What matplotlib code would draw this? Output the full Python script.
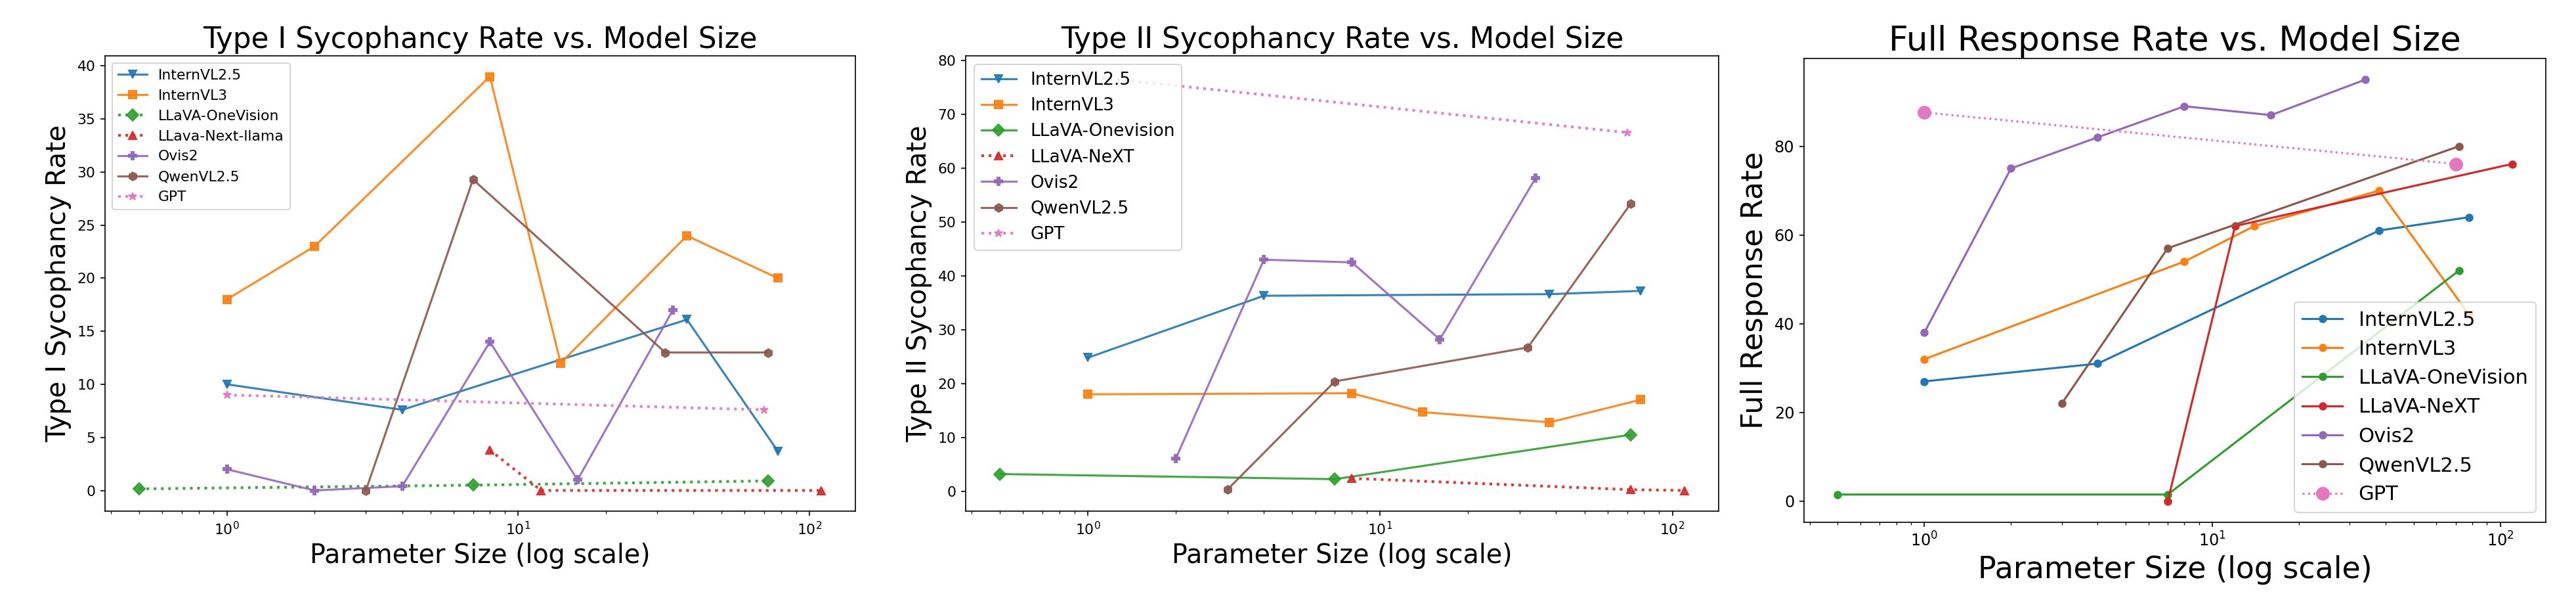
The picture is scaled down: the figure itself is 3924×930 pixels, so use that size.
import numpy as np
import matplotlib
matplotlib.use("Agg")
import matplotlib.pyplot as plt

# ---------------- data ----------------
# panel 1 : Type I sycophancy
t1_internvl25_x = [1, 4, 38, 78]
t1_internvl25_y = [10, 7.6, 16.1, 3.7]
t1_internvl3_x = [1, 2, 8, 14, 38, 78]
t1_internvl3_y = [18, 23, 39, 12, 24, 20]
t1_onevision_x = [0.5, 7, 72]
t1_onevision_y = [0.15, 0.5, 0.9]
t1_next_x = [8, 12, 110]
t1_next_y = [3.8, 0, 0]
t1_ovis_x = [1, 2, 4, 8, 16, 34]
t1_ovis_y = [2, 0, 0.4, 14, 1, 17]
t1_qwen_x = [3, 7, 32, 72]
t1_qwen_y = [0, 29.3, 13, 13]
t1_gpt_x = [1, 70]
t1_gpt_y = [9, 7.6]

# panel 2 : Type II sycophancy
t2_internvl25_x = [1, 4, 38, 78]
t2_internvl25_y = [24.8, 36.3, 36.6, 37.2]
t2_internvl3_x = [1, 8, 14, 38, 78]
t2_internvl3_y = [18, 18.2, 14.7, 12.8, 17]
t2_onevision_x = [0.5, 7, 72]
t2_onevision_y = [3.2, 2.25, 10.5]
t2_next_x = [8, 72, 110]
t2_next_y = [2.4, 0.3, 0.15]
t2_ovis_x = [2, 4, 8, 16, 34]
t2_ovis_y = [6.1, 43, 42.5, 28.2, 58.1]
t2_qwen_x = [3, 7, 32, 72]
t2_qwen_y = [0.3, 20.4, 26.7, 53.4]
t2_gpt_x = [1, 70]
t2_gpt_y = [77, 66.6]

# panel 3 : full response rate
fr_internvl25_x = [1, 4, 38, 78]
fr_internvl25_y = [27, 31, 61, 64]
fr_internvl3_x = [1, 8, 14, 38, 78]
fr_internvl3_y = [32, 54, 62, 70, 42]
fr_onevision_x = [0.5, 7, 72]
fr_onevision_y = [1.5, 1.5, 52]
fr_next_x = [7, 12, 110]
fr_next_y = [0, 62, 76]
fr_ovis_x = [1, 2, 4, 8, 16, 34]
fr_ovis_y = [38, 75, 82, 89, 87, 95]
fr_qwen_x = [3, 7, 72]
fr_qwen_y = [22, 57, 80]
fr_gpt_x = [1, 70]
fr_gpt_y = [87.6, 76]

plt.rcParams["xtick.labelsize"] = 10.5
plt.rcParams["ytick.labelsize"] = 10.5

fig = plt.figure(figsize=(26.16, 6.2), dpi=150)
ax1 = fig.add_axes([0.0408, 0.1634, 0.2913, 0.7452])
ax2 = fig.add_axes([0.3749, 0.1634, 0.2923, 0.7452])
ax3 = fig.add_axes([0.7003, 0.1452, 0.2880, 0.7590])

a = 0.9

# --- Type I ---
ax1.plot(t1_internvl25_x, t1_internvl25_y, marker="v", color="C0", alpha=a, label="InternVL2.5")
ax1.plot(t1_internvl3_x, t1_internvl3_y, marker="s", color="C1", alpha=a, label="InternVL3")
ax1.plot(t1_onevision_x, t1_onevision_y, marker="D", ls=":", lw=2, color="C2", alpha=a, label="LLaVA-OneVision")
ax1.plot(t1_next_x, t1_next_y, marker="^", ls=":", lw=2, color="C3", alpha=a, label="LLava-Next-llama")
ax1.plot(t1_ovis_x, t1_ovis_y, marker="P", color="C4", alpha=a, label="Ovis2")
ax1.plot(t1_qwen_x, t1_qwen_y, marker="h", color="C5", alpha=a, label="QwenVL2.5")
ax1.plot(t1_gpt_x, t1_gpt_y, marker="*", ls=":", lw=2, color="C6", alpha=a, label="GPT")
ax1.set_xscale("log")
ax1.set_title("Type I Sycophancy Rate vs. Model Size", fontsize=21)
ax1.set_xlabel("Parameter Size (log scale)", fontsize=19)
ax1.set_ylabel("Type I Sycophancy Rate", fontsize=19.5)
ax1.legend(loc="upper left", fontsize=10.5)

# --- Type II ---
ax2.plot(t2_internvl25_x, t2_internvl25_y, marker="v", color="C0", alpha=a, label="InternVL2.5")
ax2.plot(t2_internvl3_x, t2_internvl3_y, marker="s", color="C1", alpha=a, label="InternVL3")
ax2.plot(t2_onevision_x, t2_onevision_y, marker="D", color="C2", alpha=a, label="LLaVA-Onevision")
ax2.plot(t2_next_x, t2_next_y, marker="^", ls=":", lw=2, color="C3", alpha=a, label="LLaVA-NeXT")
ax2.plot(t2_ovis_x, t2_ovis_y, marker="P", color="C4", alpha=a, label="Ovis2")
ax2.plot(t2_qwen_x, t2_qwen_y, marker="h", color="C5", alpha=a, label="QwenVL2.5")
ax2.plot(t2_gpt_x, t2_gpt_y, marker="*", ls=":", lw=2, color="C6", alpha=a, label="GPT")
ax2.set_xscale("log")
ax2.set_title("Type II Sycophancy Rate vs. Model Size", fontsize=21)
ax2.set_xlabel("Parameter Size (log scale)", fontsize=19)
ax2.set_ylabel("Type II Sycophancy Rate", fontsize=19)
ax2.legend(loc="upper left", fontsize=12.7)

# --- Full response ---
ax3.plot(fr_internvl25_x, fr_internvl25_y, marker="o", ms=5, color="C0", label="InternVL2.5")
ax3.plot(fr_internvl3_x, fr_internvl3_y, marker="o", ms=5, color="C1", label="InternVL3")
ax3.plot(fr_onevision_x, fr_onevision_y, marker="o", ms=5, color="C2", label="LLaVA-OneVision")
ax3.plot(fr_next_x, fr_next_y, marker="o", ms=5, color="C3", label="LLaVA-NeXT")
ax3.plot(fr_ovis_x, fr_ovis_y, marker="o", ms=5, color="C4", label="Ovis2")
ax3.plot(fr_qwen_x, fr_qwen_y, marker="o", ms=5, color="C5", label="QwenVL2.5")
ax3.plot(fr_gpt_x, fr_gpt_y, marker="o", ms=9, ls=":", color="C6", label="GPT")
ax3.set_xscale("log")
ax3.tick_params(labelsize=11.5)
ax3.set_title("Full Response Rate vs. Model Size", fontsize=24.8)
ax3.set_xlabel("Parameter Size (log scale)", fontsize=22)
ax3.set_ylabel("Full Response Rate", fontsize=21.5)
ax3.legend(loc="lower right", fontsize=14.7)

fig.savefig("out.png", dpi=150)
